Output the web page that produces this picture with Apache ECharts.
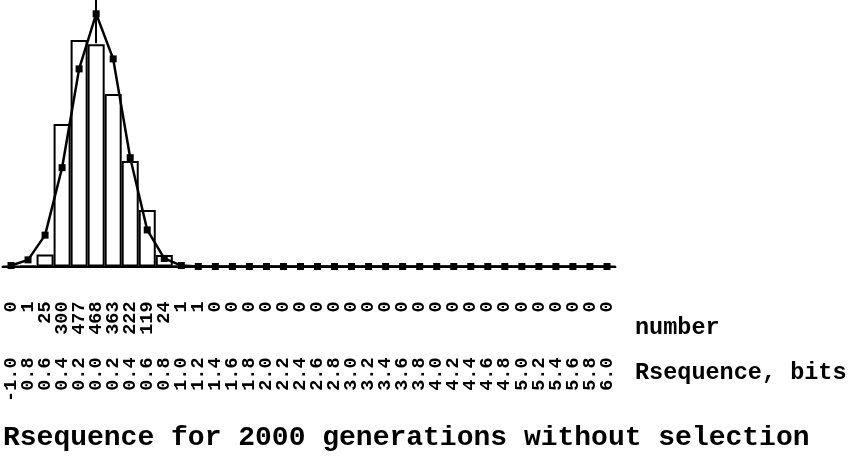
<!DOCTYPE html>
<html>
<head>
<meta charset="utf-8">
<script src="https://cdn.jsdelivr.net/npm/echarts@6/dist/echarts.min.js"></script>
<style>
html,body{margin:0;padding:0;background:#fff;}
#chart{width:851px;height:458px;}
</style>
</head>
<body>
<div id="chart"></div>
<script>
// Tick labels exactly as printed in the reference
const rsequenceLabels = ['-1.0','0.8','0.6','0.4','0.2','0.0','0.2','0.4','0.6','0.8',
  '1.0','1.2','1.4','1.6','1.8','2.0','2.2','2.4','2.6','2.8',
  '3.0','3.2','3.4','3.6','3.8','4.0','4.2','4.4','4.6','4.8',
  '5.0','5.2','5.4','5.6','5.8','6.0'];
// Histogram counts ("number" row)
const counts = [0,1,25,300,477,468,363,222,119,24,1,1,
  0,0,0,0,0,0,0,0,0,0,0,0,0,0,0,0,0,0,0,0,0,0,0,0];
// Fitted curve (square markers)
const fitted = [2,14,66,208,416,532,437,229,77,17,2,0,
  0,0,0,0,0,0,0,0,0,0,0,0,0,0,0,0,0,0,0,0,0,0,0,0];
// Vertical marker line at column index 5, from this value to the top
const markerIndex = 5;
const markerFrom = 470;
const yMax = 561;

const titleText = 'Rsequence for 2000 generations without selection';
const numberName = 'number';
const rseqName = 'Rsequence, bits';

const FONT = '"Liberation Mono", "DejaVu Sans Mono", monospace';

const chart = echarts.init(document.getElementById('chart'), null, {renderer: 'canvas'});
chart.setOption({
  animation: false,
  backgroundColor: '#fff',
  grid: {left: 2.5, right: 235.5, top: 0, bottom: 191.5, containLabel: false},
  xAxis: [
    {
      type: 'category',
      data: rsequenceLabels,
      position: 'bottom',
      axisLine: {show: true, lineStyle: {color: '#000', width: 2}},
      axisTick: {show: false},
      axisLabel: {
        interval: 0, rotate: 90, margin: 91,
        color: '#000', fontFamily: FONT, fontWeight: 'bold', fontSize: 18.5
      },
      splitLine: {show: false}
    },
    {
      type: 'category',
      data: counts.map(String),
      position: 'bottom',
      offset: 0,
      axisLine: {show: false},
      axisTick: {show: false},
      axisLabel: {
        interval: 0, rotate: 90, margin: 35,
        color: '#000', fontFamily: FONT, fontWeight: 'bold', fontSize: 18.5
      },
      splitLine: {show: false}
    }
  ],
  yAxis: {
    type: 'value', min: 0, max: yMax, show: false,
    splitLine: {show: false}
  },
  series: [
    {
      type: 'bar',
      xAxisIndex: 0,
      data: counts,
      barWidth: '100%',
      barGap: '0%',
      itemStyle: {color: 'rgba(255,255,255,0)', borderColor: '#000', borderWidth: 2},
      z: 2
    },
    {
      type: 'line',
      xAxisIndex: 0,
      data: fitted,
      symbol: 'rect',
      symbolSize: 7,
      showAllSymbol: true,
      lineStyle: {color: '#000', width: 2.5},
      itemStyle: {color: '#000'},
      z: 3,
      markLine: {
        silent: true,
        symbol: ['none', 'none'],
        label: {show: false},
        lineStyle: {color: '#000', width: 2, type: 'solid'},
        data: [[{coord: [markerIndex, markerFrom]}, {coord: [markerIndex, yMax]}]]
      }
    }
  ],
  graphic: [
    {type: 'text', left: 635, top: 316, style: {text: numberName, fill: '#000', font: 'bold 23.5px ' + FONT}},
    {type: 'text', left: 635, top: 361, style: {text: rseqName, fill: '#000', font: 'bold 23.5px ' + FONT}},
    {type: 'text', left: 3, top: 424, style: {text: titleText, fill: '#000', font: 'bold 28px ' + FONT}}
  ]
});
</script>
</body>
</html>
